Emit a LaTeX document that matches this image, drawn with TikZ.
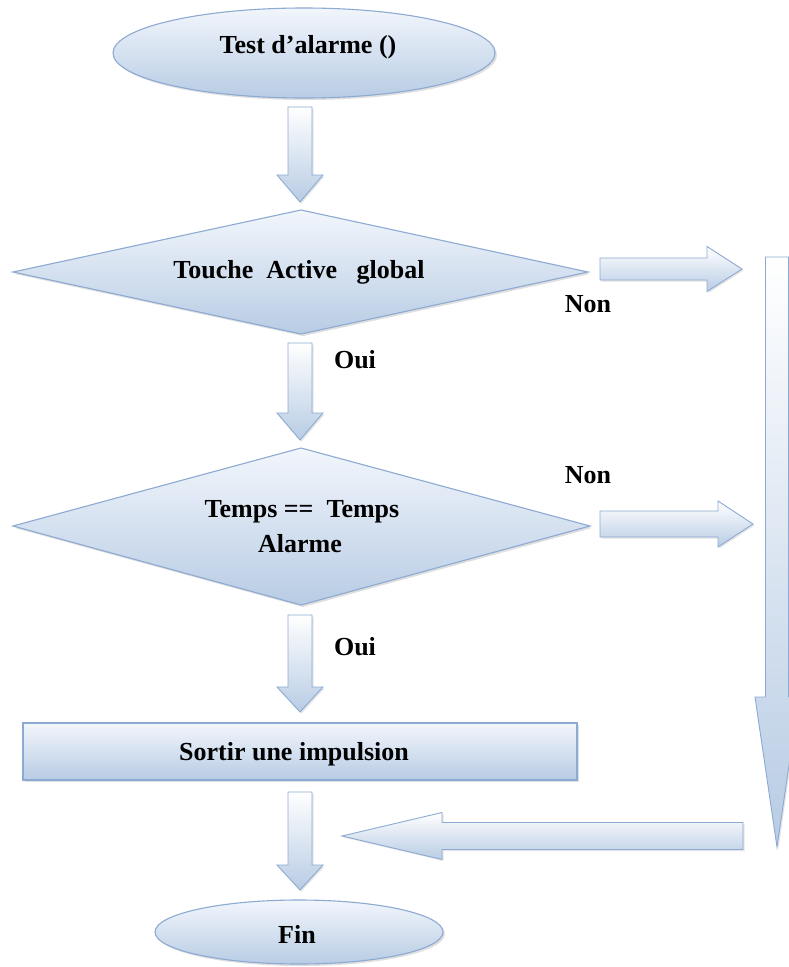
\documentclass[tikz,border=0pt]{standalone}
\usepackage{fontspec}
\setmainfont{Liberation Serif}
\usetikzlibrary{shadows}
\definecolor{fillA}{RGB}{242,246,252}
\definecolor{fillB}{RGB}{184,204,228}
\definecolor{edgeC}{RGB}{140,170,210}
\tikzset{
  boxshape/.style={draw=edgeC, line width=1.1pt, top color=fillA, bottom color=fillB,
    drop shadow={shadow xshift=2pt, shadow yshift=-2pt, opacity=0.25, fill=gray}},
  blockarrow/.style={draw=edgeC, line width=0.9pt, top color=white, bottom color=fillB,
    drop shadow={shadow xshift=1.5pt, shadow yshift=-1.5pt, opacity=0.2, fill=gray}},
  lbl/.style={font=\bfseries\fontsize{26}{35}\selectfont, text=black, inner sep=0pt, anchor=base}
}
% vertical block arrow: x, top, head start, tip, shaft half, head half
\newcommand\blkver[6]{%
  \path[blockarrow] (#1-#5,#2) -- (#1+#5,#2) -- (#1+#5,#3) -- (#1+#6,#3) -- (#1,#4)
    -- (#1-#6,#3) -- (#1-#5,#3) -- cycle;}
% horizontal block arrow: y, start, head start, tip, shaft half, head half
\newcommand\blkhor[6]{%
  \path[blockarrow] (#2,#1-#5) -- (#3,#1-#5) -- (#3,#1-#6) -- (#4,#1) -- (#3,#1+#6)
    -- (#3,#1+#5) -- (#2,#1+#5) -- cycle;}
\begin{document}
\begin{tikzpicture}[x=1pt, y=-1pt]
\clip (0,0) rectangle (789,967);
\fill[white] (0,0) rectangle (789,967);

% shapes
\path[boxshape] (304,53) ellipse [x radius=191, y radius=45];
\path[boxshape] (13,272) -- (301,210) -- (588,272) -- (301,334) -- cycle;
\path[boxshape] (13,526) -- (301,448) -- (590,526) -- (301,605) -- cycle;
\path[boxshape] (23,723) rectangle (577,780);
\path[boxshape] (299,932) ellipse [x radius=144, y radius=32];

% block arrows
\blkver{300}{107}{175}{202}{12}{23}
\blkver{300}{343}{413}{440}{12}{23}
\blkver{300}{615}{687}{712}{12}{23}
\blkver{300}{792}{865}{890}{12}{23}
\blkhor{269}{600}{707}{742}{11}{22.5}
\blkhor{524}{600}{718}{753}{13}{23}
\blkhor{836}{743}{442}{342}{13.5}{23.5}
\blkver{777}{257}{697}{847}{11.5}{22}

% texts
\node[lbl] (start) at (308,53) {Test d’alarme ()};
\node[lbl] (dec1) at (299,278) {Touche\ \ Active\ \ \ global};
\node[lbl] (non1) at (588,312) {Non};
\node[lbl] (oui1) at (355,368) {Oui};
\node[lbl] (non2) at (588,483) {Non};
\node[lbl] (dec2a) at (302,517) {Temps ==\ \ Temps};
\node[lbl] (dec2b) at (300,552) {Alarme};
\node[lbl] (oui2) at (355,655) {Oui};
\node[lbl] (act) at (294,760) {Sortir une impulsion};
\node[lbl] (fin) at (297,943) {Fin};
\end{tikzpicture}
\end{document}
